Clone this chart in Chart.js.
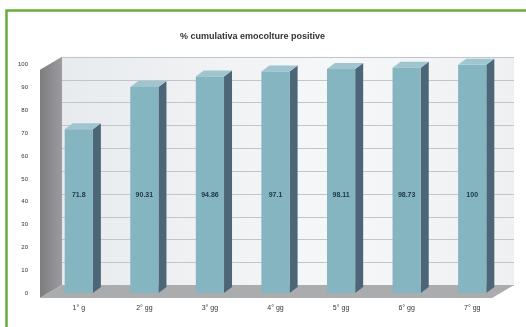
<!DOCTYPE html>
<html><head><meta charset="utf-8">
<script src="https://cdn.jsdelivr.net/npm/chart.js@4/dist/chart.umd.min.js"></script>
<style>html,body{margin:0;padding:0;background:#fff;}#wrap{width:526px;height:327px;position:relative;}</style>
</head><body><div id="wrap"><canvas id="c" width="526" height="327"></canvas></div>
<script>
const categories = ["1° g", "2° gg", "3° gg", "4° gg", "5° gg", "6° gg", "7° gg"];
const values = [71.8, 90.31, 94.86, 97.1, 98.11, 98.73, 100];
const valueLabels = ["71.8", "90.31", "94.86", "97.1", "98.11", "98.73", "100"];
const yTicks = [0, 10, 20, 30, 40, 50, 60, 70, 80, 90, 100];
const titleText = "% cumulativa emocolture positive";

const DX = 8, DY = -6;        // bar depth
const WX = 22, WY = -13;      // wall depth

const scene = {
  id: 'scene',
  beforeDraw(chart) {
    const ctx = chart.ctx;
    ctx.save();
    ctx.fillStyle = '#fff';
    ctx.fillRect(0, 0, chart.width, chart.height);
    ctx.restore();
  },
  beforeDatasetsDraw(chart) {
    const ctx = chart.ctx;
    const y = chart.scales.y;
    const fx = 40;
    const fTop = y.getPixelForValue(100) + 5;
    const fBot = y.getPixelForValue(0) + 5;
    const bx = fx + WX;
    const bRight = 514;
    ctx.save();
    const g = ctx.createLinearGradient(bx, 0, bRight, 0);
    g.addColorStop(0, '#e8ebee'); g.addColorStop(0.6, '#f6f7f8'); g.addColorStop(1, '#eef0f2');
    ctx.fillStyle = g;
    ctx.fillRect(bx, fTop + WY, bRight - bx, fBot - fTop);
    ctx.strokeStyle = '#c3c6c9'; ctx.lineWidth = 1;
    yTicks.forEach(v => {
      const py = Math.round(y.getPixelForValue(v) + 5 + WY) + 0.5;
      ctx.beginPath(); ctx.moveTo(bx, py); ctx.lineTo(bRight, py); ctx.stroke();
    });
    const lg = ctx.createLinearGradient(fx, 0, bx, 0);
    lg.addColorStop(0, '#7d7d80'); lg.addColorStop(1, '#9c9ca0');
    ctx.fillStyle = lg;
    ctx.beginPath();
    ctx.moveTo(fx, fTop); ctx.lineTo(bx, fTop + WY); ctx.lineTo(bx, fBot + WY); ctx.lineTo(fx, fBot);
    ctx.closePath(); ctx.fill();
    ctx.fillStyle = '#aaacae';
    ctx.beginPath();
    ctx.moveTo(fx, fBot); ctx.lineTo(bx, fBot + WY); ctx.lineTo(bRight, fBot + WY); ctx.lineTo(bRight - WX, fBot);
    ctx.closePath(); ctx.fill();
    const meta = chart.getDatasetMeta(0);
    meta.data.forEach(bar => {
      const p = bar.getProps(['x', 'y', 'base', 'width'], true);
      const l = p.x - p.width / 2, r = p.x + p.width / 2;
      ctx.fillStyle = '#4c6678';
      ctx.beginPath();
      ctx.moveTo(r, p.y); ctx.lineTo(r + DX, p.y + DY); ctx.lineTo(r + DX, p.base + DY); ctx.lineTo(r, p.base);
      ctx.closePath(); ctx.fill();
      ctx.fillStyle = '#9fc6cf';
      ctx.beginPath();
      ctx.moveTo(l, p.y); ctx.lineTo(l + DX, p.y + DY); ctx.lineTo(r + DX, p.y + DY); ctx.lineTo(r, p.y);
      ctx.closePath(); ctx.fill();
    });
    ctx.restore();
  },
  afterDatasetsDraw(chart) {
    const ctx = chart.ctx;
    const y = chart.scales.y;
    const meta = chart.getDatasetMeta(0);
    ctx.save();
    ctx.font = 'bold 7px "Liberation Sans", Arial, sans-serif';
    ctx.fillStyle = '#1d3644';
    ctx.textAlign = 'center'; ctx.textBaseline = 'middle';
    meta.data.forEach((bar, i) => {
      ctx.fillText(valueLabels[i], bar.x, y.getPixelForValue(43));
    });
    ctx.restore();
  },
  afterDraw(chart) {
    const ctx = chart.ctx;
    ctx.save();
    ctx.strokeStyle = '#69ad3c'; ctx.lineWidth = 2.5;
    ctx.strokeRect(6.5, 10.5, 530, 330);
    ctx.restore();
  }
};

new Chart(document.getElementById('c'), {
  type: 'bar',
  data: {
    labels: categories,
    datasets: [{
      data: values,
      backgroundColor: '#84b5c0',
      borderWidth: 0,
      barPercentage: 0.86,
      categoryPercentage: 0.5
    }]
  },
  options: {
    responsive: false,
    animation: false,
    layout: { padding: { left: 0, right: 21, top: 0, bottom: 8 } },
    plugins: {
      legend: { display: false },
      tooltip: { enabled: false },
      title: {
        display: true, text: titleText,
        color: '#333',
        font: { family: '"Liberation Sans", Arial, sans-serif', size: 9, weight: 'bold', lineHeight: 1.2 },
        padding: { top: 31, bottom: 23 }
      }
    },
    scales: {
      x: {
        grid: { display: false, drawTicks: false },
        border: { display: false },
        ticks: { color: '#333', font: { family: '"Liberation Sans", Arial, sans-serif', size: 7 }, padding: 11, maxRotation: 0 },
        afterFit(s) { s.height = 26; }
      },
      y: {
        min: 0, max: 100,
        grid: { display: false, drawTicks: false },
        border: { display: false },
        afterBuildTicks(s) { s.ticks = yTicks.map(v => ({ value: v })); },
        ticks: { color: '#333', font: { family: '"Liberation Sans", Arial, sans-serif', size: 6 }, padding: 18 },
        afterFit(s) { s.width = 46; }
      }
    }
  },
  plugins: [scene]
});
</script></body></html>
